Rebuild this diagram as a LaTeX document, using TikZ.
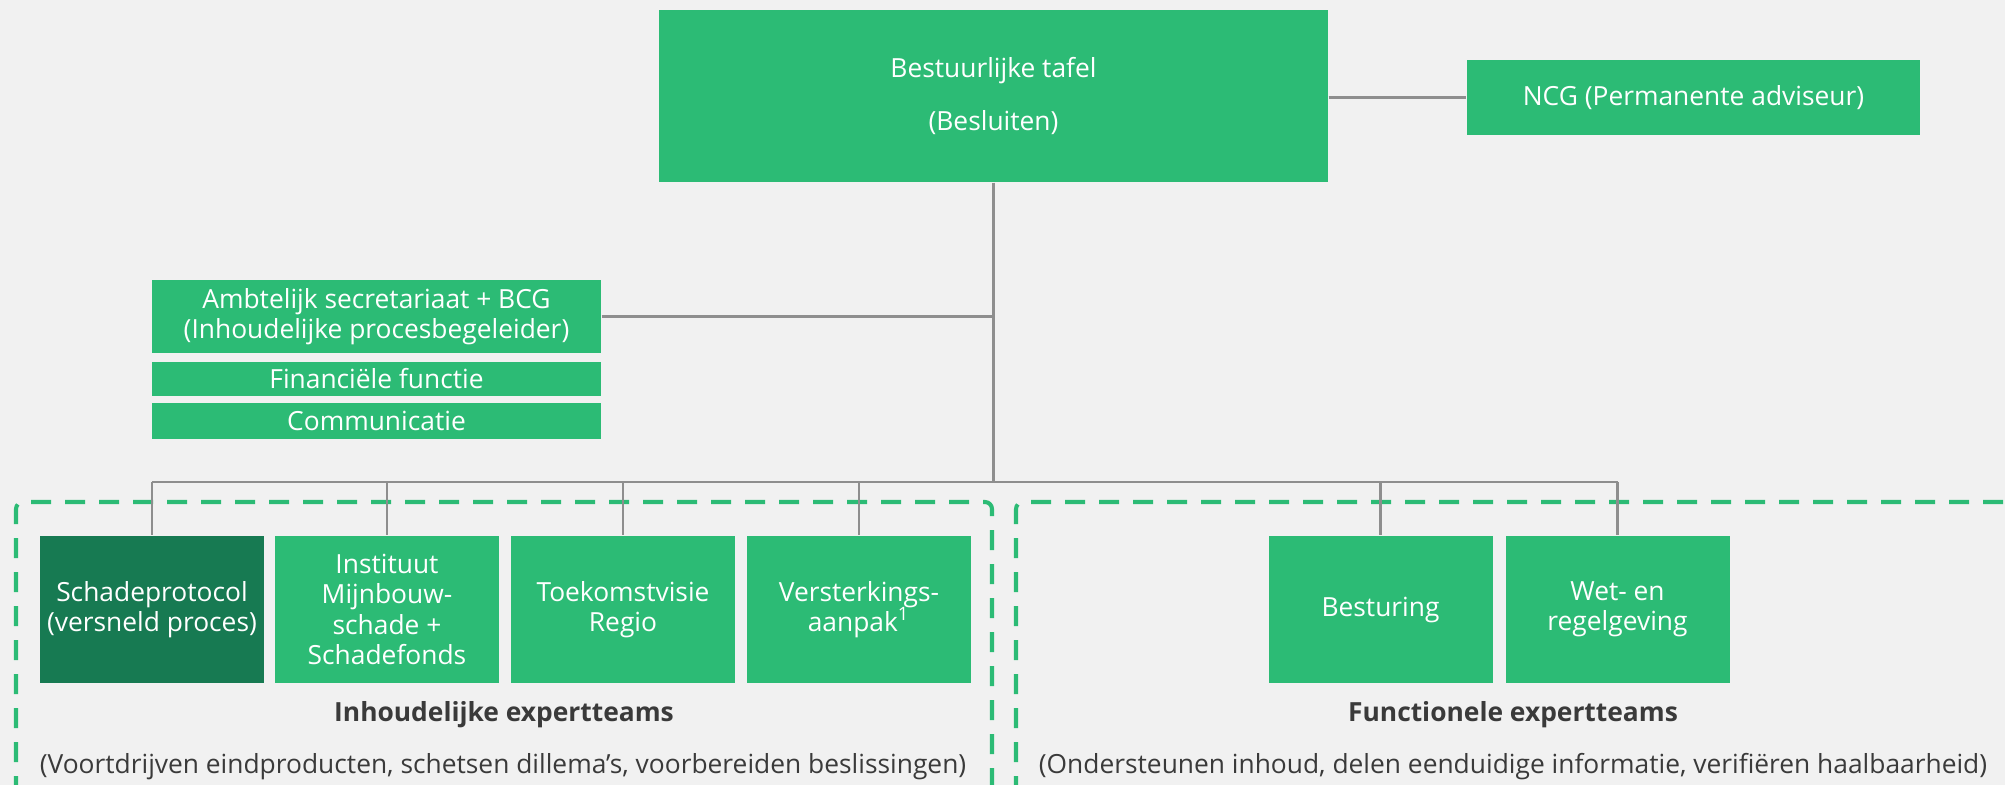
\documentclass[tikz,border=0pt]{standalone}
\usepackage{fontspec}
\setmainfont{Open Sans}
\usepackage{tikz}
\definecolor{MyGreen}{HTML}{2CBB75}
\definecolor{MyDarkGreen}{HTML}{177A52}
\definecolor{MyBack}{HTML}{F1F1F1}
\definecolor{MyLine}{HTML}{8E8E8E}
\definecolor{MyText}{HTML}{3A3A3A}

\tikzset{
  box/.style={fill=MyGreen, text=white, inner sep=0pt, align=center, font=\fontsize{7.5}{8.6}\selectfont},
  team/.style={box, minimum width=2.24cm, minimum height=1.47cm},
  link/.style={draw=MyLine, line width=0.6pt},
  frame/.style={draw=MyGreen, line width=1.15pt, dash pattern=on 0.2cm off 0.14cm},
  caption/.style={text=MyText, inner sep=0pt, font=\fontsize{7.5}{8.6}\selectfont},
  title/.style={caption, font=\fontsize{7.5}{8.6}\selectfont\bfseries}
}

\begin{document}
\begin{tikzpicture}
        \fill[MyBack] (0,0) rectangle (20.05,-7.85);

        \begin{scope}
        \clip (0,0) rectangle (20.05,-7.85);
        \draw[frame, rounded corners=2pt] (0.16,-8.3) -- (0.16,-5.02) -- (9.92,-5.02) -- (9.92,-8.3);
        \draw[frame, rounded corners=2pt] (10.16,-8.3) -- (10.16,-5.02) -- (20.4,-5.02);
        \end{scope}

        \node[box, minimum width=6.69cm, minimum height=1.72cm] (tafel) at (9.935,-0.96) {Bestuurlijke tafel\\[6.4pt](Besluiten)};
        \node[box, minimum width=4.53cm, minimum height=0.75cm] (ncg) at (16.935,-0.975) {NCG (Permanente adviseur)};

        \node[box, minimum width=4.49cm, minimum height=0.73cm] (amb) at (3.765,-3.165) {Ambtelijk secretariaat + BCG\\(Inhoudelijke procesbegeleider)};
        \node[box, minimum width=4.49cm, minimum height=0.34cm] (fin) at (3.765,-3.79) {Financiële functie};
        \node[box, minimum width=4.49cm, minimum height=0.36cm] (com) at (3.765,-4.21) {Communicatie};

        \node[team, fill=MyDarkGreen] (schade) at (1.52,-6.095) {Schadeprotocol\\(versneld proces)};
        \node[team] (imsf) at (3.87,-6.095) {Instituut\\Mijnbouw-\\schade +\\Schadefonds};
        \node[team] (regio) at (6.23,-6.095) {Toekomstvisie\\Regio};
        \node[team] (vsa) at (8.59,-6.095) {Versterkings-\\aanpak\textsuperscript{1}};
        \node[team] (best) at (13.805,-6.095) {Besturing};
        \node[team] (wet) at (16.175,-6.095) {Wet- en\\regelgeving};

        \coordinate (bus) at (0,-4.82);
        \draw[link] (tafel.east |- ncg) -- (ncg.west);
        \draw[link] (tafel.south) -- (tafel.south |- bus);
        \draw[link] (amb.east) -- (amb.east -| tafel.south);
        \draw[link] (schade.north |- bus) -- (wet.north |- bus);
        \foreach \t in {schade,imsf,regio,vsa,best,wet}
          \draw[link] (\t.north |- bus) -- (\t.north);

        \node[title] (inhtitle) at (5.04,-7.15) {Inhoudelijke expertteams};
        \node[caption] (inhtext) at (5.03,-7.67) {(Voortdrijven eindproducten, schetsen dillema's, voorbereiden beslissingen)};
        \node[title] (funtitle) at (15.13,-7.15) {Functionele expertteams};
        \node[caption] (funtext) at (15.13,-7.67) {(Ondersteunen inhoud, delen eenduidige informatie, verifiëren haalbaarheid)};
\end{tikzpicture}
\end{document}
